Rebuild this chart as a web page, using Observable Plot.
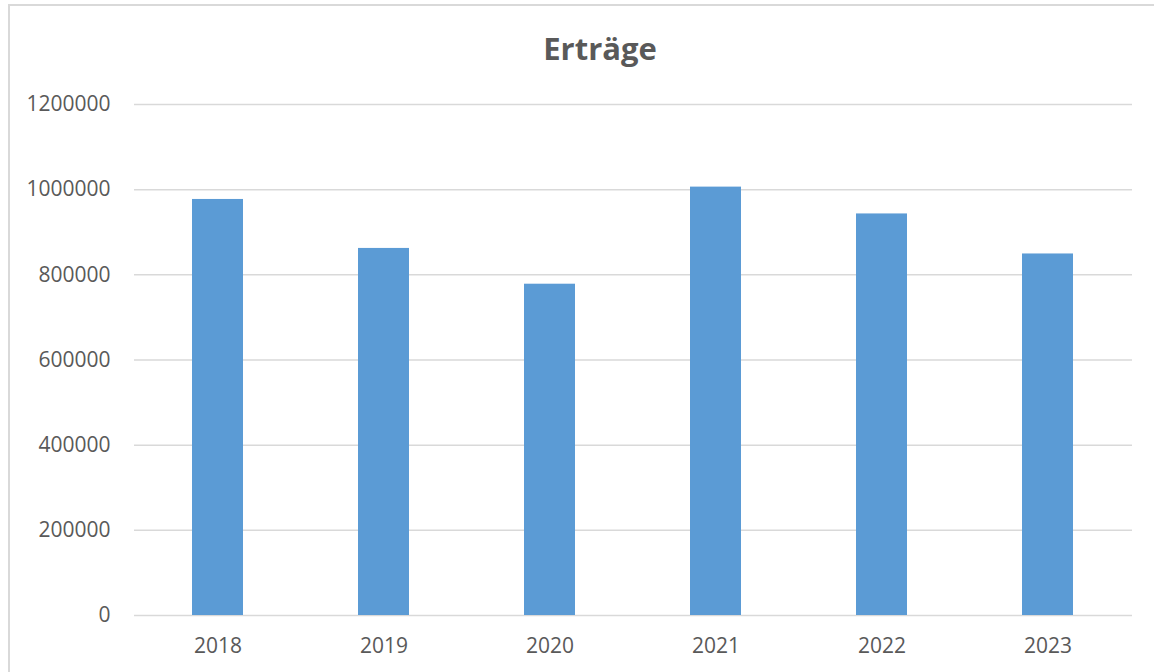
<!DOCTYPE html>
<html>
<head>
<meta charset="utf-8">
<script src="https://cdn.jsdelivr.net/npm/d3@7"></script>
<script src="https://cdn.jsdelivr.net/npm/@observablehq/plot@0.6"></script>
<style>
  html, body { margin: 0; padding: 0; background: #fff; overflow: hidden; }
  #wrap { position: relative; width: 1154px; height: 672px; }
  #frame { position: absolute; left: 8px; top: 4px; width: 1200px; height: 700px;
           border: 2px solid #d9d9d9; box-sizing: border-box; pointer-events: none; }
  #title { position: absolute; left: 0; width: 1200px; top: 28px; text-align: center;
           font-family: "Open Sans", sans-serif; font-weight: bold; font-size: 31px;
           color: #595959; line-height: 40px; }
  #chart { position: absolute; left: 0; top: 0; }
</style>
</head>
<body>
<div id="wrap">
  <div id="chart"></div>
  <div id="frame"></div>
  <div id="title">Erträge</div>
</div>
<script>
const years = ["2018", "2019", "2020", "2021", "2022", "2023"];
const values = [977000, 862000, 778000, 1006000, 943000, 849000];
const yTicks = [0, 200000, 400000, 600000, 800000, 1000000, 1200000];

const data = years.map((y, i) => ({year: y, value: values[i]}));

const chart = Plot.plot({
  width: 1154,
  height: 672,
  marginTop: 104,
  marginBottom: 57,
  marginLeft: 134,
  marginRight: 22,
  style: {fontFamily: "'Open Sans', sans-serif", fontSize: "21px", color: "#595959", background: "transparent"},
  x: {domain: years, paddingInner: 0.69, paddingOuter: 0.345, label: null},
  y: {domain: [0, 1200000], label: null},
  marks: [
    Plot.ruleY(yTicks, {stroke: "#d9d9d9", strokeWidth: 1.5}),
    Plot.barY(data, {x: "year", y: "value", fill: "#5b9bd5"}),
    Plot.axisY({ticks: yTicks, tickFormat: d3.format("d"), tickSize: 0, tickPadding: 24, fill: "#595959", label: null}),
    Plot.axisX({tickSize: 0, tickPadding: 23, fill: "#595959", label: null})
  ]
});
document.getElementById("chart").appendChild(chart);
</script>
</body>
</html>
